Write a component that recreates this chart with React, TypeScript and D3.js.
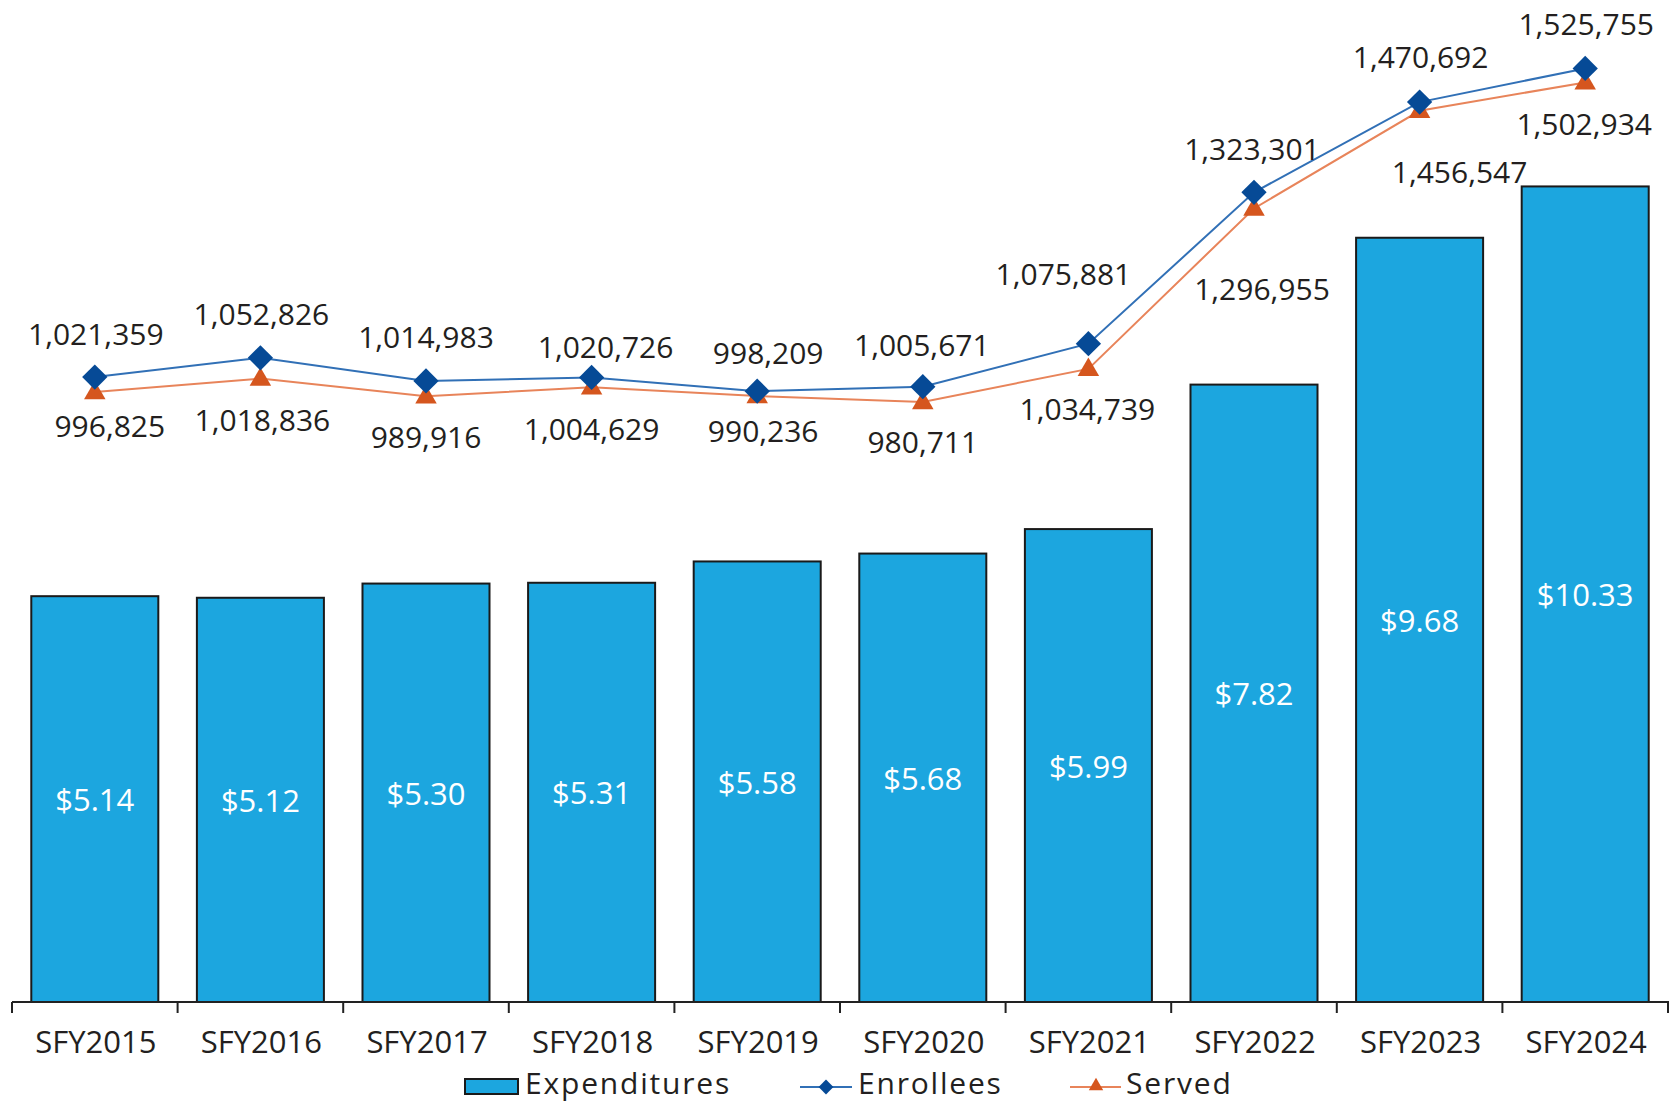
import React from "react";
import * as d3 from "d3";

const categories = ["SFY2015","SFY2016","SFY2017","SFY2018","SFY2019","SFY2020","SFY2021","SFY2022","SFY2023","SFY2024"];
const expenditures = [5.14, 5.12, 5.30, 5.31, 5.58, 5.68, 5.99, 7.82, 9.68, 10.33];
const enrollees = [1021359, 1052826, 1014983, 1020726, 998209, 1005671, 1075881, 1323301, 1470692, 1525755];
const served = [996825, 1018836, 989916, 1004629, 990236, 980711, 1034739, 1296955, 1456547, 1502934];
const legendLabels = ["Expenditures", "Enrollees", "Served"];

// layout nudges for data labels (dx from category centre, dy from marker to baseline)
const enrLabelNudge: [number, number][] = [[1,-32],[1,-33],[0,-33],[14,-19],[11,-27],[-1,-31],[-25,-59],[-2,-32],[1,-34],[1,-33]];
const srvLabelNudge: [number, number][] = [[15,45],[2,52],[0,52],[0,53],[6,46],[0,51],[-1,51],[8,92],[40,72],[-1,53]];

const W = 1669, H = 1102;
const axisY = 1002, plotTop = 23, left = 12, right = 1668;
const FONT = "'Open Sans', 'Noto Sans', sans-serif";
const TXT = "#231F20";
const BAR = "#1CA6DF";
const ENR_M = "#064A96", ENR_L = "#3170B6";
const SRV_M = "#D5561E", SRV_L = "#E8845A";

const fmt = d3.format(",");

export default function App() {
  const x = d3.scaleBand<string>().domain(categories).range([left, right]).paddingInner(0.233).paddingOuter(0.1165);
  const yBar = d3.scaleLinear().domain([0, 12.4]).range([axisY, plotTop]);
  const yLine = d3.scaleLinear().domain([0, 1600000]).range([axisY, plotTop]);
  const cx = (c: string) => (x(c) as number) + x.bandwidth() / 2;
  const step = x.step();
  const lineGen = d3.line<number>().x((_, i) => cx(categories[i])).y((v) => yLine(v));
  const diamond = d3.symbol().type(d3.symbolSquare).size(320)();
  const tri = d3.symbol().type(d3.symbolTriangle).size(200)();
  const fmtMoney = (v: number) => "$" + v.toFixed(2);

  return (
    <svg width={W} height={H} style={{ position: "absolute", left: 0, top: 0 }} fontFamily={FONT}>
      <rect width={W} height={H} fill="#fff" />
      {categories.map((c, i) => (
        <rect key={c} x={x(c)} y={yBar(expenditures[i])} width={x.bandwidth()} height={axisY - yBar(expenditures[i])}
          fill={BAR} stroke="#1a1a1a" strokeWidth={2} />
      ))}
      {categories.map((c, i) => (
        <text key={c} x={cx(c)} y={(yBar(expenditures[i]) + axisY) / 2} fill="#fff" fontSize={31}
          textAnchor="middle" dominantBaseline="central">{fmtMoney(expenditures[i])}</text>
      ))}
      {/* axis */}
      <line x1={left} x2={W} y1={axisY} y2={axisY} stroke="#222" strokeWidth={2} />
      {d3.range(categories.length + 1).map((i) => (
        <line key={i} x1={left + i * step} x2={left + i * step} y1={axisY} y2={axisY + 11} stroke="#222" strokeWidth={2} />
      ))}
      {categories.map((c) => (
        <text key={c} x={cx(c) + 1} y={1053} fontSize={31} fill={TXT} textAnchor="middle">{c}</text>
      ))}
      {/* lines */}
      <path d={lineGen(enrollees) || ""} fill="none" stroke={ENR_L} strokeWidth={2} />
      <path d={lineGen(served) || ""} fill="none" stroke={SRV_L} strokeWidth={2} />
      {served.map((v, i) => (
        <path key={i} d={tri || ""} transform={`translate(${cx(categories[i])},${yLine(v) + 1})`} fill={SRV_M} />
      ))}
      {enrollees.map((v, i) => (
        <path key={i} d={diamond || ""} transform={`translate(${cx(categories[i])},${yLine(v)}) rotate(45)`} fill={ENR_M} />
      ))}
      {enrollees.map((v, i) => (
        <text key={i} x={cx(categories[i]) + enrLabelNudge[i][0]} y={yLine(v) + enrLabelNudge[i][1]} fontSize={30}
          fill={TXT} textAnchor="middle">{fmt(v)}</text>
      ))}
      {served.map((v, i) => (
        <text key={i} x={cx(categories[i]) + srvLabelNudge[i][0]} y={yLine(v) + srvLabelNudge[i][1]} fontSize={30}
          fill={TXT} textAnchor="middle">{fmt(v)}</text>
      ))}
      {/* legend */}
      <g fontSize={30} fill={TXT} letterSpacing={1.8}>
        <rect x={465} y={1079} width={53} height={15} fill={BAR} stroke="#1a1a1a" strokeWidth={2} />
        <text x={525} y={1094}>{legendLabels[0]}</text>
        <line x1={800} x2={852} y1={1087} y2={1087} stroke={ENR_L} strokeWidth={2} />
        <path d={d3.symbol().type(d3.symbolSquare).size(110)() || ""} transform="translate(826,1087) rotate(45)" fill={ENR_M} />
        <text x={858} y={1094}>{legendLabels[1]}</text>
        <line x1={1070} x2={1121} y1={1087} y2={1087} stroke={SRV_L} strokeWidth={2} />
        <path d={d3.symbol().type(d3.symbolTriangle).size(90)() || ""} transform="translate(1096,1086)" fill={SRV_M} />
        <text x={1126} y={1094}>{legendLabels[2]}</text>
      </g>
    </svg>
  );
}
